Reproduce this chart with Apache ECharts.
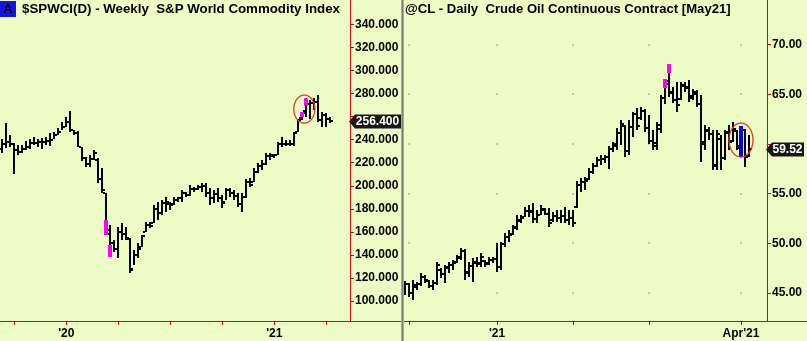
<!DOCTYPE html>
<html>
<head>
<meta charset="utf-8">
<script src="https://cdn.jsdelivr.net/npm/echarts@6/dist/echarts.min.js"></script>
<style>
  html, body { margin: 0; padding: 0; background: #ECFCC4; }
  #chart { width: 807px; height: 341px; }
</style>
</head>
<body>
<div id="chart"></div>
<script>
// ---- $SPWCI weekly bars (index = week number) ----
const spwciOpen  = [232,236,238,236,231,229,232,234,237,237,238,238,239,240,244,247,251,255,248,246,234,224,219,223,222,206,194,158,150,145,160,158,154,128,140,147,160,166,168,180,176,185,184,184,188,189,194,192,197,197,199,200,194,189,193,189,186,196,194,191,184,190,203,203,212,217,219,226,225.5,227,236,236,236,236,247,259,265,271,272,273,257,261,258];
const spwciHigh  = [240.5,254.4,244.0,237.1,235.3,235.3,238.8,240.5,242.3,240.5,241.4,242.3,245.7,246.6,250.1,255.3,259.6,264.8,248.3,247.5,233.6,224.9,226.7,231.0,224.1,215.4,193.7,165.9,153.0,164.2,167.7,164.2,154.7,144.3,150.3,157.3,168.5,168.5,183.3,185.9,187.6,190.2,185.9,190.2,190.2,196.3,194.6,200.6,198.9,200.6,202.4,202.4,198.0,196.3,198.0,191.9,198.0,198.0,196.3,193.7,193.7,205.8,206.7,215.4,219.7,222.3,228.4,228.4,227.5,237.9,242.3,239.7,239.7,246.6,257.9,264.0,276.1,274.4,276.1,278.7,264.0,263.1,259.6];
const spwciLow   = [228.4,232.7,233.6,210.2,226.7,228.4,231.0,231.9,235.3,233.6,231.9,235.3,234.5,240.5,244.0,248.3,250.9,246.6,244.0,233.6,221.4,216.3,216.3,222.3,202.4,193.7,157.3,138.2,142.5,137.3,153.0,153.0,124.3,131.2,137.3,146.9,159.9,163.3,167.7,170.3,174.6,177.2,178.9,183.3,185.9,185.9,190.2,191.1,194.6,196.3,194.6,190.2,183.3,185.0,185.9,180.7,187.6,190.2,187.6,181.5,177.2,189.4,198.9,203.2,211.0,213.6,218.0,222.3,224.0,226.7,233.6,234.5,234.5,234.5,246.6,257.0,259.6,257.9,265.7,255.3,250.9,250.9,254.4];
const spwciClose = [236,238,236,231,229,232,234,237,237,238,238,239,240,244,247,251,255,248,246,234,224,219,223,228,206,196,162,150,145,160,158,155,127,140,145,156,166,165,180,176,185,186,183,188,189,194,192,197,197,199,200,194,189,193,189,185,196,194,191,184,190,203,201,212,217,219,226,227,226.5,236,236,236,236,246,257,263,271,272,273,257,261,258,256.4];
const spwciTickIdx    = [3, 16, 29, 42, 55, 68, 81];
const spwciLabelIdx   = [16, 68];
const spwciLabelText  = ["'20", "'21"];
const spwciPriceTicks = [100, 120, 140, 160, 180, 200, 220, 240, 260, 280, 300, 320, 340];
// price levels whose labels sit under the last-price tag
const spwciPriceHidden = [260];
// highlighted stretches: [week, from, to]
const spwciPink  = [[26, 157.3, 170.3], [27, 138.2, 148.6], [75, 259.6, 264.0], [76, 269.4, 275.8]];
const spwciRing  = [[75.5, 266.5]];

// ---- @CL daily bars (index = session number) ----
const clOpen  = [45.3,45.9,45.0,45.6,45.9,46.6,46.2,45.7,46.0,47.3,46.9,47.5,47.8,48.1,48.6,49.2,47.1,47.7,48.0,48.0,48.2,48.0,48.3,48.4,47.6,49.9,50.6,50.9,51.6,52.3,52.7,53.3,53.3,52.4,52.9,53.4,53.0,52.3,52.8,52.6,52.8,52.3,52.6,53.7,55.9,56.2,56.5,57.2,57.8,58.4,58.5,58.7,59.5,59.8,61.1,61.8,59.3,61.7,63.0,62.6,63.3,61.6,60.3,59.8,61.5,64.6,66.3,65.2,64.4,64.5,65.8,65.6,64.8,65.0,64.0,60.2,61.3,61.0,57.9,60.5,58.6,61.1,60.3,61.3,59.6,61.4,58.8];
const clHigh  = [46.21,46.00,46.31,46.10,47.01,46.81,46.31,46.31,48.12,47.51,47.82,48.12,48.32,48.82,49.53,49.43,48.12,48.52,48.62,49.02,48.32,48.62,48.62,50.03,50.13,51.04,51.34,51.84,52.85,52.85,53.66,53.86,54.06,53.36,53.86,53.56,53.56,53.15,53.36,53.36,53.66,53.36,53.36,56.27,56.58,56.68,57.59,58.09,58.69,58.89,58.89,59.80,60.20,61.61,62.42,61.91,62.42,63.22,63.63,63.73,63.53,62.92,61.41,62.22,64.94,66.55,68.06,65.74,66.24,66.24,66.24,66.45,65.54,65.44,64.94,61.91,61.71,61.41,61.41,60.91,61.41,61.91,62.22,61.41,61.81,61.51,60.91];
const clLow   = [44.79,44.59,44.29,45.30,45.70,46.00,45.50,45.30,45.80,46.51,46.00,47.01,47.31,48.02,48.32,46.31,46.61,46.10,47.62,47.62,47.62,47.82,48.02,47.11,47.31,49.63,50.13,50.84,51.34,52.05,52.65,52.65,52.05,52.05,52.85,52.85,51.64,52.15,52.15,52.05,52.05,51.84,51.64,53.56,55.17,55.37,56.38,56.98,57.69,57.89,58.09,57.48,59.19,59.40,59.90,58.69,58.89,60.71,61.41,62.42,61.21,60.00,59.40,59.40,61.11,64.03,64.73,64.13,63.22,64.43,65.24,64.23,64.43,63.73,58.19,59.40,60.40,57.38,57.38,57.38,58.39,59.40,60.20,59.40,58.69,57.69,58.69];
const clClose = [45.9,45.0,45.8,45.9,46.6,46.3,45.7,46.0,47.8,46.9,47.6,47.8,48.0,48.5,49.2,47.0,47.7,48.1,47.9,48.6,47.9,48.3,48.4,47.6,49.9,50.6,50.8,51.5,52.2,52.6,53.3,53.2,52.4,52.9,53.5,53.0,52.0,52.8,52.6,52.8,52.3,52.6,52.0,55.9,56.2,56.3,57.2,57.8,58.4,58.5,58.7,59.5,60.0,61.1,62.0,59.3,61.7,63.0,61.8,63.3,61.6,60.3,60.1,61.9,64.6,66.0,65.1,64.4,63.9,65.9,65.7,64.6,65.2,64.0,60.0,61.4,61.0,57.8,61.0,58.6,61.2,60.2,61.5,59.8,61.4,58.7,59.52];
const clTickIdx    = [1, 23, 42, 61, 84];
const clLabelIdx   = [23, 84];
const clLabelText  = ["'21", "Apr'21"];
const clPriceTicks = [45, 50, 55, 60, 65, 70];
const clPriceHidden = [60];
const clPink = [[65, 65.64, 66.55], [66, 67.15, 68.06]];
const clBlue = [[84, 58.69, 61.81]];
const clRing = [[84, 60.4]];

// ---- styling ----
const RED = '#e80000';
const FONT = '"Liberation Sans", Arial, sans-serif';

function ohlcRows(o, h, l, c) {
  return o.map((_, i) => [i, o[i], h[i], l[i], c[i]]);
}

// HLC bar with open tick on the left and close tick on the right
function renderOhlc(params, api) {
  const i = api.value(0);
  const pO = api.coord([i, api.value(1)]);
  const pH = api.coord([i, api.value(2)]);
  const pL = api.coord([i, api.value(3)]);
  const pC = api.coord([i, api.value(4)]);
  const x = Math.round(pH[0]);
  const fill = { fill: '#000' };
  return {
    type: 'group',
    children: [
      { type: 'rect', shape: { x: x - 1, y: pH[1], width: 2, height: Math.max(2, pL[1] - pH[1]) }, style: fill },
      { type: 'rect', shape: { x: x - 3, y: Math.round(pO[1]) - 1, width: 2, height: 2 }, style: fill },
      { type: 'rect', shape: { x: x + 1, y: Math.round(pC[1]) - 1, width: 2, height: 2 }, style: fill }
    ]
  };
}

function renderBlock(color) {
  return function (params, api) {
    const i = api.value(0);
    const a = api.coord([i, api.value(1)]);
    const b = api.coord([i, api.value(2)]);
    const x = Math.round(a[0]);
    return { type: 'rect', shape: { x: x - 2, y: b[1], width: 4, height: a[1] - b[1] }, style: { fill: color } };
  };
}

function renderRing(rx, ry) {
  return function (params, api) {
    const c = api.coord([api.value(0), api.value(1)]);
    const pts = [];
    for (let k = 0; k < 64; k++) {
      const t = k / 64 * Math.PI * 2;
      pts.push([c[0] + rx * Math.cos(t), c[1] + ry * Math.sin(t)]);
    }
    return { type: 'polygon', shape: { points: pts }, style: { fill: 'none', stroke: '#e03a2a', lineWidth: 1.3 } };
  };
}

// last-price tag hanging off the value axis
function renderTag(digits, boxW) {
  return function (params, api) {
    const p = api.coord([api.value(0), api.value(1)]);
    const ax = params.coordSys.x + params.coordSys.width;
    const y = Math.round(p[1]) + 0.5;
    return {
      type: 'group',
      children: [
        { type: 'polygon', shape: { points: [[ax - 1, y], [ax + 5, y - 7], [ax + boxW, y - 7], [ax + boxW, y + 7], [ax + 5, y + 7]] },
          style: { fill: '#161616' } },
        { type: 'text', x: ax + 4 + (boxW - 4) / 2, y: y,
          style: { text: api.value(1).toFixed(digits), fill: '#fff', font: 'bold 12px ' + FONT, align: 'center', verticalAlign: 'middle' } }
      ]
    };
  };
}

function renderDot(params, api) {
  const p = api.coord([api.value(0), api.value(1)]);
  return { type: 'rect', shape: { x: Math.round(p[0]) - 1, y: Math.round(p[1]) - 1, width: 2, height: 2 }, style: { fill: '#c4c8b8' } };
}

const clDots = [];
clTickIdx.forEach(i => clPriceTicks.forEach(v => clDots.push([i, v])));

function xAxisCfg(grid, min, max, ticks, labelIdx, labelText) {
  return {
    type: 'value', gridIndex: grid, min: min, max: max,
    axisLine: { show: false, onZero: false },
    splitLine: { show: false },
    axisTick: { show: true, customValues: ticks, length: 4, lineStyle: { color: RED, width: 1 } },
    axisLabel: {
      customValues: labelIdx, margin: 7, color: '#000', fontWeight: 'bold', fontSize: 12, fontFamily: FONT,
      formatter: v => labelText[labelIdx.indexOf(v)]
    }
  };
}

function yAxisCfg(grid, min, max, ticks, hidden, digits) {
  return {
    type: 'value', gridIndex: grid, position: 'right', min: min, max: max,
    axisLine: { show: true, onZero: false, lineStyle: { color: RED, width: 1 } },
    splitLine: { show: false },
    axisTick: { show: true, customValues: ticks, length: 4, lineStyle: { color: RED, width: 1 } },
    axisLabel: {
      customValues: ticks.filter(v => hidden.indexOf(v) < 0), margin: 5,
      color: '#000', fontWeight: 'bold', fontSize: 12, fontFamily: FONT,
      formatter: v => v.toFixed(digits)
    }
  };
}

const chart = echarts.init(document.getElementById('chart'), null, { renderer: 'canvas' });

chart.setOption({
  backgroundColor: '#ECFCC4',
  animation: false,
  grid: [
    { left: 0, top: 0, width: 350, height: 321 },
    { left: 403, top: 0, width: 364, height: 321 }
  ],
  xAxis: [
    xAxisCfg(0, -0.583, 86.917, spwciTickIdx, spwciLabelIdx, spwciLabelText),
    xAxisCfg(1, -0.5, 90.5, clTickIdx, clLabelIdx, clLabelText)
  ],
  yAxis: [
    yAxisCfg(0, 82.7, 361.1, spwciPriceTicks, spwciPriceHidden, 3),
    yAxisCfg(1, 42.18, 74.5, clPriceTicks, clPriceHidden, 2)
  ],
  series: [
    { type: 'custom', xAxisIndex: 1, yAxisIndex: 1, data: clDots, renderItem: renderDot, silent: true, z: 1 },
    { type: 'custom', name: '$SPWCI', xAxisIndex: 0, yAxisIndex: 0, data: ohlcRows(spwciOpen, spwciHigh, spwciLow, spwciClose), renderItem: renderOhlc, encode: { x: 0, y: [1, 2, 3, 4] }, z: 2 },
    { type: 'custom', xAxisIndex: 0, yAxisIndex: 0, data: spwciPink, renderItem: renderBlock('#ff00ff'), z: 3 },
    { type: 'custom', xAxisIndex: 0, yAxisIndex: 0, data: spwciRing, renderItem: renderRing(10.5, 14), z: 4 },
    { type: 'custom', xAxisIndex: 0, yAxisIndex: 0, data: [[spwciClose.length - 1, spwciClose[spwciClose.length - 1]]], renderItem: renderTag(3, 51), z: 5 },
    { type: 'custom', name: '@CL', xAxisIndex: 1, yAxisIndex: 1, data: ohlcRows(clOpen, clHigh, clLow, clClose), renderItem: renderOhlc, encode: { x: 0, y: [1, 2, 3, 4] }, z: 2 },
    { type: 'custom', xAxisIndex: 1, yAxisIndex: 1, data: clPink, renderItem: renderBlock('#ff00ff'), z: 3 },
    { type: 'custom', xAxisIndex: 1, yAxisIndex: 1, data: clBlue, renderItem: renderBlock('#0000ff'), z: 3 },
    { type: 'custom', xAxisIndex: 1, yAxisIndex: 1, data: clRing, renderItem: renderRing(12, 17), z: 4 },
    { type: 'custom', xAxisIndex: 1, yAxisIndex: 1, data: [[clClose.length - 1, clClose[clClose.length - 1]]], renderItem: renderTag(2, 37), z: 5 }
  ],
  graphic: [
    // baseline running under both panels
    { type: 'rect', shape: { x: 0, y: 321, width: 807, height: 1 }, style: { fill: RED }, z: 10 },
    // panel divider
    { type: 'rect', shape: { x: 401, y: 0, width: 3, height: 341 }, style: { fill: '#a8a8a8' }, z: 11 },
    { type: 'rect', shape: { x: 402, y: 0, width: 1, height: 341 }, style: { fill: '#7c7c7c' }, z: 11 },
    // panel titles
    { type: 'rect', shape: { x: 0, y: 1, width: 16, height: 16 }, style: { fill: '#1414e6' }, z: 12 },
    { type: 'text', x: 8, y: 9.5, style: { text: 'A', font: 'bold 13px ' + FONT, fill: '#000', align: 'center', verticalAlign: 'middle' }, z: 12 },
    { type: 'text', x: 22, y: 9.5, style: { text: '$SPWCI(D) - Weekly  S&P World Commodity Index', font: 'bold 13.3px ' + FONT, fill: '#000', verticalAlign: 'middle' }, z: 12 },
    { type: 'text', x: 405, y: 9.5, style: { text: '@CL - Daily  Crude Oil Continuous Contract [May21]', font: 'bold 13.1px ' + FONT, fill: '#000', verticalAlign: 'middle' }, z: 12 }
  ]
});
</script>
</body>
</html>
